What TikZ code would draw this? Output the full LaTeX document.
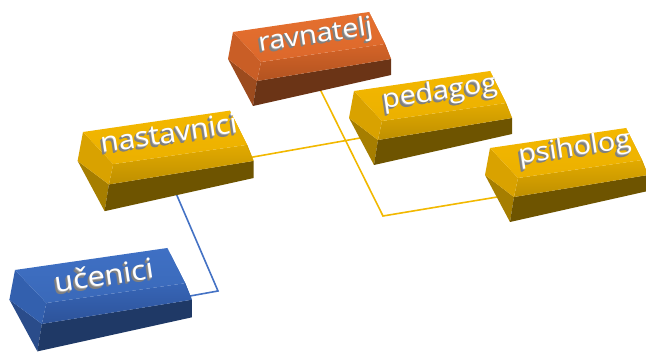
\documentclass[tikz,border=0pt]{standalone}
\usepackage{fontspec}
\setmainfont{Open Sans}
\usepackage{graphicx}
% yellow
\definecolor{yTop}{HTML}{F4B800}
\definecolor{yTopB}{HTML}{EBB000}
\definecolor{yBev}{HTML}{E2AA00}
\definecolor{yBevB}{HTML}{BE8F00}
\definecolor{yLeft}{HTML}{D9A200}
\definecolor{yRight}{HTML}{D6A000}
\definecolor{yFront}{HTML}{6E5400}
\definecolor{ySide}{HTML}{A67E00}
% orange
\definecolor{oTop}{HTML}{E5702F}
\definecolor{oTopB}{HTML}{DC682B}
\definecolor{oBev}{HTML}{D46428}
\definecolor{oBevB}{HTML}{B25320}
\definecolor{oLeft}{HTML}{C95E26}
\definecolor{oRight}{HTML}{C65C25}
\definecolor{oFront}{HTML}{6B3416}
\definecolor{oSide}{HTML}{9C4B1E}
% blue
\definecolor{bTop}{HTML}{3F70C4}
\definecolor{bTopB}{HTML}{3A69B9}
\definecolor{bBev}{HTML}{3765B6}
\definecolor{bBevB}{HTML}{2D539A}
\definecolor{bLeft}{HTML}{3360AE}
\definecolor{bRight}{HTML}{325EAB}
\definecolor{bFront}{HTML}{1F3966}
\definecolor{bSide}{HTML}{2A4C8A}
% lines and text
\definecolor{yLine}{HTML}{F2B800}
\definecolor{bLine}{HTML}{4472C4}
\definecolor{tShd}{HTML}{808080}
\definecolor{tShdL}{HTML}{A8A8A8}

\newcommand\gbox[5]{%
\begin{scope}[shift={(#1,#2)},xscale=#3,yscale=#4]
 \fill[#5Side] (-5,27) -- (24,49) -- (20,74) -- cycle;
 \fill[#5Front] (24,49) -- (158,27) -- (158,43) -- (20,74) -- cycle;
 \shade[top color=#5Bev, bottom color=#5BevB] (28,30) -- (152,12) -- (158,27) -- (24,49) -- cycle;
 \fill[#5Left] (0,0) -- (28,30) -- (24,49) -- (-5,27) -- cycle;
 \fill[#5Right] (136,-20) -- (158,27) -- (152,12) -- cycle;
 \shade[top color=#5Top, bottom color=#5TopB] (0,0) -- (136,-20) -- (152,12) -- (28,30) -- cycle;
\end{scope}}

\newcommand\etxt[1]{%
\makebox[0pt][l]{\kern-2.2pt\raisebox{-2.2pt}{\textcolor{tShd}{#1}}}%
\makebox[0pt][l]{\kern-1.6pt\raisebox{-1.6pt}{\textcolor{tShd}{#1}}}%
\makebox[0pt][l]{\kern-1.0pt\raisebox{-1.0pt}{\textcolor{tShd}{#1}}}%
\makebox[0pt][l]{\kern-0.5pt\raisebox{-0.5pt}{\textcolor{tShdL}{#1}}}%
\textcolor{white}{#1}}

\tikzset{
  lbl/.style={rotate=8.5, inner sep=0pt},
  small/.style={font=\fontsize{26}{31}\selectfont},
  large/.style={font=\fontsize{27.5}{33}\selectfont},
  yconn/.style={draw=yLine, line width=1.6pt},
  bconn/.style={draw=bLine, line width=1.6pt}
}

\begin{document}
\begin{tikzpicture}[x=1pt,y=-1pt]
\useasboundingbox (0,0) rectangle (646,352);

% connector anchor points (hidden behind boxes)
\coordinate (ravB) at (318,85);
\coordinate (bendA) at (383,216);
\coordinate (psiL) at (505,195.7);
\coordinate (nasR) at (235,160.2);
\coordinate (pedL) at (368,136.6);
\coordinate (nasB) at (174.6,190);
\coordinate (bendB) at (218,291);
\coordinate (uceR) at (185,296.9);

% connectors
\draw[yconn] (ravB) -- (bendA) -- (psiL);
\draw[yconn] (nasR) -- (pedL);
\draw[bconn] (nasB) -- (bendB) -- (uceR);

% ravnatelj
\gbox{233}{32}{1}{1}{o}
\node[lbl,small] (rav) at (316,37) {\scalebox{1.1}[1]{\etxt{ravnatelj}}};

% pedagog
\gbox{354}{91}{1}{1}{y}
\node[lbl,small] (ped) at (440,94) {\scalebox{1.1}[1]{\etxt{pedagog}}};

% psiholog
\gbox{490}{148}{1}{1}{y}
\node[lbl,small] (psi) at (575,150) {\scalebox{1.1}[1]{\etxt{psiholog}}};

% nastavnici
\gbox{83}{132}{1.08}{1.07}{y}
\node[lbl,large] (nas) at (169,134) {\scalebox{1.08}[1]{\etxt{nastavnici}}};

% ucenici
\gbox{15}{270}{1.12}{1.1}{b}
\node[lbl,large] (uce) at (104,276) {\scalebox{1.12}[1]{\etxt{učenici}}};

\end{tikzpicture}
\end{document}
